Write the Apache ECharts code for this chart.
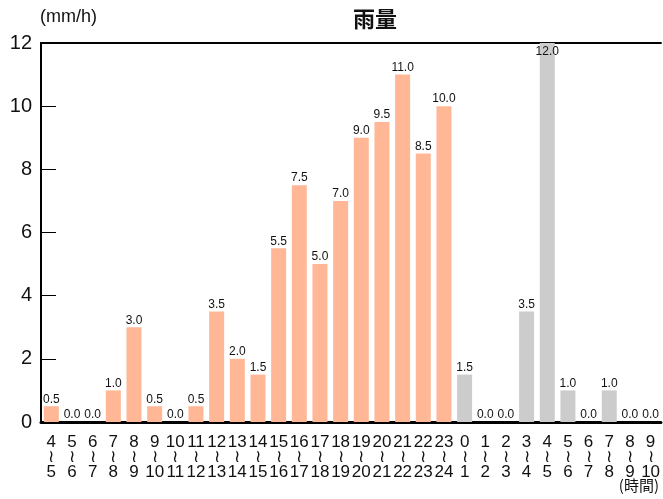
<!DOCTYPE html>
<html>
<head>
<meta charset="utf-8">
<style>
  html, body { margin: 0; padding: 0; background: #fff; }
  #main { width: 663px; height: 499px; }
</style>
<script src="https://cdn.jsdelivr.net/npm/echarts@6/dist/echarts.min.js"></script>
</head>
<body>
<div id="main"></div>
<script>
// 時間帯 (開始〜終了)
var hourFrom = [4,5,6,7,8,9,10,11,12,13,14,15,16,17,18,19,20,21,22,23,0,1,2,3,4,5,6,7,8,9];
var hourTo   = [5,6,7,8,9,10,11,12,13,14,15,16,17,18,19,20,21,22,23,24,1,2,3,4,5,6,7,8,9,10];
// 実測 (オレンジ) と 予測 (グレー)
var observed = [0.5,0,0,1,3,0.5,0,0.5,3.5,2,1.5,5.5,7.5,5,7,9,9.5,11,8.5,10];
var forecast = [1.5,0,0,3.5,12,1,0,1,0,0];
var yTicks = [0,2,4,6,8,10,12];

var yMax = yTicks[yTicks.length - 1];
var categories = hourFrom.map(function (h, i) { return h + '\n≀\n' + hourTo[i]; });

function mkData(vals, offset) {
  var out = [];
  for (var i = 0; i < categories.length; i++) {
    var j = i - offset;
    if (j >= 0 && j < vals.length) {
      var v = vals[j];
      // 上限に届く棒はラベルを棒の中に
      out.push(v >= yMax ? { value: v, label: { position: 'insideTop', distance: 3 } } : v);
    } else {
      out.push(null);
    }
  }
  return out;
}

var barLabel = {
  show: true,
  position: 'top',
  distance: 1,
  color: '#111',
  fontSize: 12,
  fontFamily: 'Liberation Sans',
  formatter: function (p) { return p.value == null ? '' : Number(p.value).toFixed(1); }
};

var option = {
  animation: false,
  backgroundColor: '#fff',
  textStyle: { fontFamily: 'Liberation Sans' },
  grid: { left: 41, right: 0, top: 43, bottom: 77 },
  graphic: [
    { type: 'text', left: 353, top: 8, style: { text: '雨量', fontSize: 22, fontWeight: 'bold', fill: '#111', fontFamily: 'Noto Sans CJK JP', textAlign: 'center' } },
    { type: 'text', left: 40, top: 8, style: { text: '(mm/h)', fontSize: 18, fill: '#111', fontFamily: 'Liberation Sans' } },
    { type: 'text', right: 4, top: 478, style: { text: '(時間)', fontSize: 15, fill: '#111', fontFamily: 'Noto Sans CJK JP' } }
  ],
  xAxis: [{
    type: 'category',
    data: categories,
    axisLine: { lineStyle: { color: '#000', width: 3 } },
    axisTick: { inside: true, length: 8, lineStyle: { color: '#000', width: 1 } },
    axisLabel: { interval: 0, color: '#111', fontSize: 17, lineHeight: 15, margin: 13, fontFamily: 'Liberation Sans' }
  }, {
    type: 'category',
    position: 'top',
    data: categories,
    axisLine: { lineStyle: { color: '#000', width: 2 } },
    axisTick: { show: false },
    axisLabel: { show: false }
  }],
  yAxis: {
    type: 'value',
    min: 0,
    max: yMax,
    interval: yTicks[1] - yTicks[0],
    splitLine: { show: false },
    axisLine: { show: true, lineStyle: { color: '#000', width: 2 } },
    axisTick: { show: true, inside: true, length: 15, lineStyle: { color: '#000', width: 1 } },
    axisLabel: { color: '#111', fontSize: 20, margin: 9, fontFamily: 'Liberation Sans' }
  },
  series: [{
    name: '実測',
    type: 'bar',
    data: mkData(observed, 0),
    barWidth: 15,
    barGap: '-100%',
    itemStyle: { color: '#FFB795' },
    label: barLabel
  }, {
    name: '予測',
    type: 'bar',
    data: mkData(forecast, observed.length),
    barWidth: 15,
    barGap: '-100%',
    itemStyle: { color: '#CCCCCC' },
    label: barLabel
  }]
};

var myChart = echarts.init(document.getElementById('main'));
myChart.setOption(option);
</script>
</body>
</html>
